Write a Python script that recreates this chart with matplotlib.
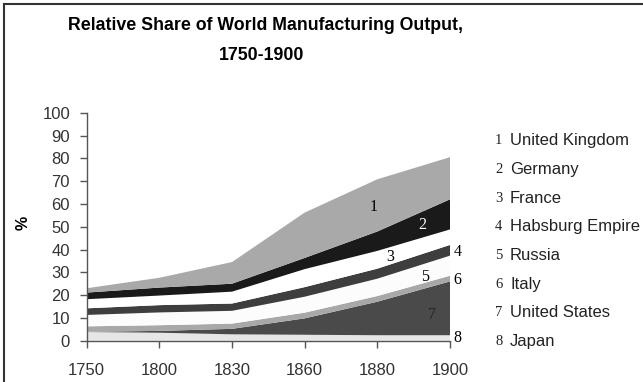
import matplotlib
matplotlib.use("Agg")
import matplotlib.pyplot as plt
from matplotlib.lines import Line2D
import numpy as np

# Relative share of world manufacturing output (%), by country
years = ["1750", "1800", "1830", "1860", "1880", "1900"]
japan = [3.8, 3.5, 2.8, 2.6, 2.4, 2.4]
united_states = [0.1, 0.8, 2.4, 7.2, 14.7, 23.6]
italy = [2.4, 2.5, 2.3, 2.5, 2.5, 2.5]
russia = [5.0, 5.6, 5.6, 7.0, 7.6, 8.8]
habsburg = [2.9, 3.2, 3.2, 4.2, 4.4, 4.7]
france = [4.0, 4.2, 5.2, 7.9, 7.8, 6.8]
germany = [2.9, 3.5, 3.5, 4.9, 8.5, 13.2]
united_kingdom = [1.9, 4.3, 9.5, 19.9, 22.9, 18.5]

legend_names = ["United Kingdom", "Germany", "France", "Habsburg Empire",
                "Russia", "Italy", "United States", "Japan"]

# stacked bottom to top
layers = [japan, united_states, italy, russia, habsburg, france, germany, united_kingdom]
colors = ["#e6e6e6", "#4a4a4a", "#a8a8a8", "#fcfcfc", "#3e3e3e", "#ffffff", "#1a1a1a", "#a9a9a9"]

fig = plt.figure(figsize=(6.43, 3.82), dpi=100)
ax = fig.add_axes([86.7 / 643, 1 - 340.7 / 382, (450 - 86.7) / 643, (340.7 - 112.7) / 382])

x = np.arange(len(years))
ax.stackplot(x, *layers, colors=colors, linewidth=0)

ax.set_xlim(0, len(years) - 1)
ax.set_ylim(0, 100)
ax.set_xticks(x)
ax.set_xticklabels(years)
ax.set_yticks(np.arange(0, 101, 10))

for s in ("top", "right"):
    ax.spines[s].set_visible(False)
for s in ("left", "bottom"):
    ax.spines[s].set_color("#555555")
    ax.spines[s].set_linewidth(1.0)

ax.tick_params(axis="y", direction="out", length=5, width=1, color="#555555",
               labelsize=12, labelcolor="#333333", pad=7)
ax.tick_params(axis="x", direction="out", length=5, width=1, color="#555555",
               labelsize=12, labelcolor="#333333", pad=11)
for lab in ax.get_xticklabels() + ax.get_yticklabels():
    lab.set_family("Liberation Sans")

fig.text(23 / 643, 1 - 223 / 382, "%", fontsize=11.5, fontweight="bold",
         family="Liberation Sans", rotation=90, ha="center", va="center")

# numbered labels inside / beside the bands
num_labels = [
    ("1", 3.95, 58.8, "black"),
    ("2", 4.62, 50.9, "white"),
    ("3", 4.18, 36.8, "black"),
    ("4", 5.10, 39.1, "black"),
    ("5", 4.66, 28.0, "black"),
    ("6", 5.10, 26.6, "black"),
    ("7", 4.75, 11.3, "#222222"),
    ("8", 5.10, 1.2, "black"),
]
for t, xi, yi, c in num_labels:
    ax.text(xi, yi, t, fontsize=11.5, family="Liberation Serif", color=c,
            ha="center", va="center", clip_on=False)

# key listing countries by number
for i, name in enumerate(legend_names):
    ypix = 141 + i * 28.6
    yf = 1 - ypix / 382
    fig.text(495 / 643, yf, str(i + 1), fontsize=10.5, family="Liberation Serif",
             color="#222222", ha="left", va="center")
    fig.text(510 / 643, yf, name, fontsize=12, family="Liberation Sans",
             color="#222222", ha="left", va="center")

fig.text(265 / 643, 1 - 25 / 382, "Relative Share of World Manufacturing Output,",
         fontsize=12.8, fontweight="bold", family="Liberation Sans",
         ha="center", va="center")
fig.text(262 / 643, 1 - 55 / 382, "1750-1900", fontsize=12.8, fontweight="bold",
         family="Liberation Sans", ha="center", va="center")

# frame edges along top and left
fig.add_artist(Line2D([4 / 643, 1], [1 - 3.5 / 382, 1 - 3.5 / 382],
                      transform=fig.transFigure, color="#333333", lw=1.5))
fig.add_artist(Line2D([4 / 643, 4 / 643], [0, 1 - 3.5 / 382],
                      transform=fig.transFigure, color="#333333", lw=1.5))

fig.savefig("out.png", dpi=100)
